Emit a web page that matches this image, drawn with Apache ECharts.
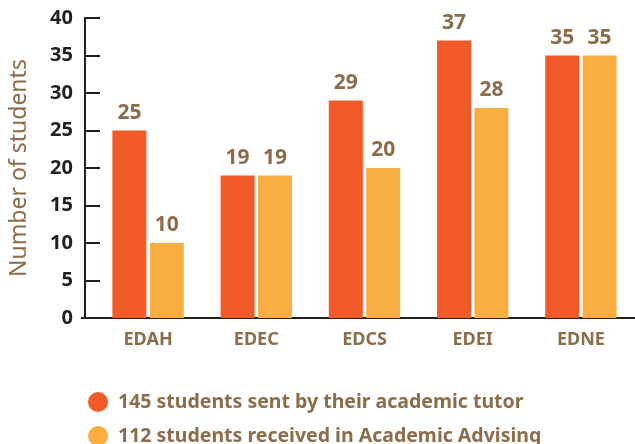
<!DOCTYPE html>
<html>
<head>
<meta charset="utf-8">
<script src="https://cdn.jsdelivr.net/npm/echarts@6/dist/echarts.min.js"></script>
<style>
html, body { margin: 0; padding: 0; background: #fff; }
#chart { width: 635px; height: 444px; }
</style>
</head>
<body>
<div id="chart"></div>
<script>
// 数据
const categories = ['EDAH', 'EDEC', 'EDCS', 'EDEI', 'EDNE']
const sentByTutor = [25, 19, 29, 37, 35]
const receivedAdvising = [10, 19, 20, 28, 35]
const seriesNames = ['145 students sent by their academic tutor', '112 students received in Academic Advising']

const brown = '#8c6d4b'
const dark = '#231f20'
const font = 'Noto Sans'

// 图例（每行一个）
function legendItem(name, top) {
    return {
        orient: 'horizontal',
        left: 83,
        top: top,
        itemWidth: 20,
        itemHeight: 20,
        icon: 'circle',
        textStyle: { color: brown, fontSize: 19.5, fontWeight: 'bold', fontFamily: font, padding: [0, 0, 0, 5] },
        data: [name]
    }
}

let chart = echarts.init(document.getElementById('chart'))
chart.setOption({
    textStyle: { fontFamily: font },
    grid: { left: 91, top: 18, width: 554, height: 300 },
    legend: [legendItem(seriesNames[0], 387), legendItem(seriesNames[1], 421)],
    xAxis: {
        type: 'category',
        data: categories,
        axisLine: { lineStyle: { color: dark, width: 2 } },
        axisTick: { show: false },
        axisLabel: { color: brown, fontSize: 18, fontWeight: 'bold', margin: 13 }
    },
    yAxis: {
        type: 'value',
        min: 0,
        max: 40,
        interval: 5,
        offset: 9,
        name: 'Number of students',
        nameLocation: 'middle',
        nameGap: 54,
        nameTextStyle: { color: brown, fontSize: 23 },
        axisLine: { show: true, lineStyle: { color: dark, width: 2 } },
        axisTick: { show: true, inside: true, length: 15, lineStyle: { color: dark, width: 2 } },
        axisLabel: { color: dark, fontSize: 20, fontWeight: 'bold', margin: 12 },
        splitLine: { show: false }
    },
    graphic: [{
        type: 'line',
        shape: { x1: 81, y1: 318, x2: 92, y2: 318 },
        style: { stroke: dark, lineWidth: 2 }
    }],
    series: [
        {
            name: seriesNames[0],
            type: 'bar',
            data: sentByTutor,
            barWidth: 34,
            barGap: '10%',
            itemStyle: { color: '#f15a29' },
            label: { show: true, position: 'top', distance: 7, color: brown, fontSize: 21, fontWeight: 'bold' }
        },
        {
            name: seriesNames[1],
            type: 'bar',
            data: receivedAdvising,
            barWidth: 34,
            barGap: '10%',
            itemStyle: { color: '#f9ae42' },
            label: { show: true, position: 'top', distance: 7, color: brown, fontSize: 21, fontWeight: 'bold' }
        }
    ]
})
</script>
</body>
</html>
